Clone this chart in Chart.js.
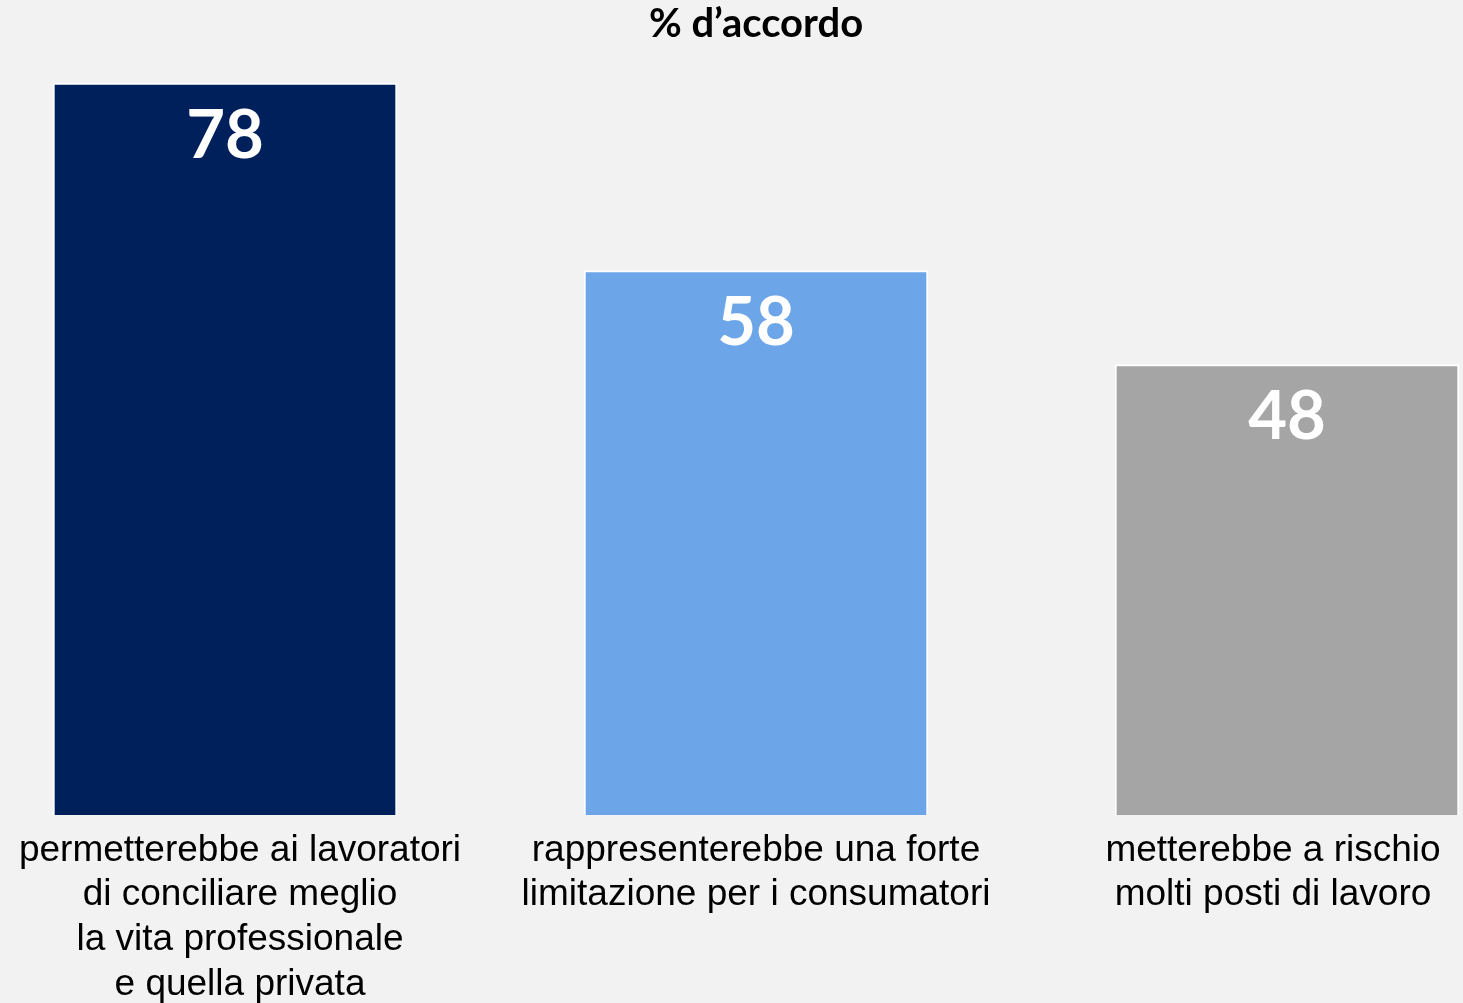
<!DOCTYPE html>
<html>
<head>
<meta charset="utf-8">
<script src="https://cdn.jsdelivr.net/npm/chart.js@4"></script>
<style>
    body { margin: 0; background: #f2f2f2; }
    #wrap { width: 1463px; height: 1003px; position: relative; }
</style>
</head>
<body>
<div id="wrap"><canvas id="chart"></canvas></div>
<script>
// dati
const categories = [
    ['permetterebbe ai lavoratori', 'di conciliare meglio', 'la vita professionale', 'e quella privata'],
    ['rappresenterebbe una forte', 'limitazione per i consumatori'],
    ['metterebbe a rischio', 'molti posti di lavoro']
];
const values = [78, 58, 48];
const barColors = ['#00205b', '#6ca6e8', '#a5a5a5'];
const titleText = '% d\u2019accordo';

// etichette dei valori dentro le barre
const valueLabels = {
    id: 'valueLabels',
    afterDatasetsDraw(chart) {
        const ctx = chart.ctx;
        const meta = chart.getDatasetMeta(0);
        ctx.save();
        ctx.fillStyle = '#ffffff';
        ctx.font = 'bold 67px Lato';
        ctx.textAlign = 'center';
        ctx.textBaseline = 'middle';
        meta.data.forEach(function (bar, i) {
            ctx.fillText(String(values[i]), bar.x, bar.y + 53);
        });
        ctx.restore();
    }
};

var canvas = document.getElementById('chart');
var chart = new Chart(canvas.getContext('2d'), {
    type: 'bar',
    data: {
        labels: categories,
        datasets: [{
            data: values,
            backgroundColor: barColors,
            borderColor: '#ffffff',
            borderWidth: 2,
            barThickness: 344,
            clip: false
        }]
    },
    options: {
        responsive: true,
        maintainAspectRatio: false,
        animation: false,
        layout: {
            padding: { left: 225, right: 176, top: 0, bottom: 0 }
        },
        plugins: {
            legend: { display: false },
            tooltip: { enabled: false },
            title: {
                display: true,
                text: titleText,
                color: '#000000',
                font: { family: 'Lato', size: 40, weight: 'bold', lineHeight: 1.2 },
                padding: { top: 0, bottom: 35 }
            }
        },
        scales: {
            x: {
                offset: false,
                grid: { display: false, drawTicks: false },
                border: { display: false },
                ticks: {
                    color: '#000000',
                    font: { family: 'Liberation Sans', size: 37, lineHeight: 1.21 },
                    padding: 13,
                    maxRotation: 0,
                    autoSkip: false
                },
                afterFit: function (scale) {
                    scale.height = 188;
                    scale.paddingLeft = 0;
                    scale.paddingRight = 0;
                    // le caselle di testo non sono centrate esattamente sotto le barre
                    var nudge = [15, 0, -14];
                    scale.getPixelForTick = function (i) {
                        return Object.getPrototypeOf(this).getPixelForTick.call(this, i) + (nudge[i] || 0);
                    };
                }
            },
            y: {
                display: false,
                min: 0,
                max: 78
            }
        }
    },
    plugins: [valueLabels]
});
</script>
</body>
</html>
